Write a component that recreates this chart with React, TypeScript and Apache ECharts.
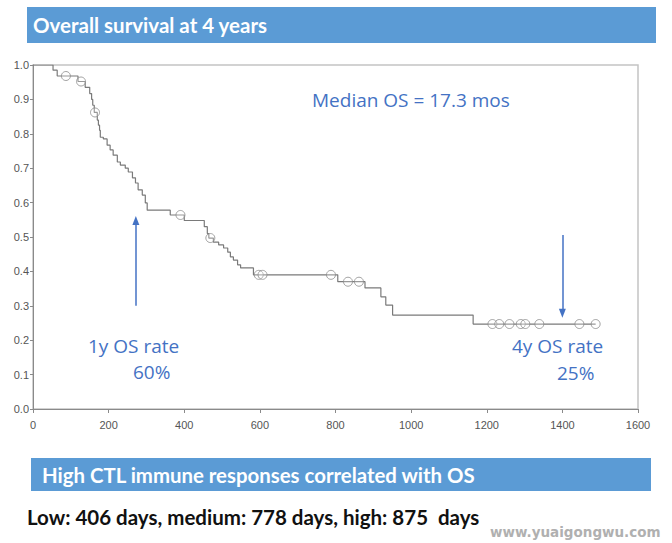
import React, { useEffect, useRef } from "react";
import * as echarts from "echarts";

// Kaplan–Meier step points: time (days) and survival after the step
const stepTimes = [0, 53, 64, 119, 138, 150, 155, 158, 162, 170, 173, 176, 178, 186, 196, 204, 212, 223, 231, 244, 252, 263, 271, 278, 289, 297, 302, 363, 400, 453, 461, 465, 477, 491, 504, 515, 522, 530, 541, 549, 583, 806, 878, 920, 933, 951, 1164, 1488];
const stepSurv = [1.0, 0.985, 0.968, 0.952, 0.935, 0.917, 0.9, 0.883, 0.862, 0.84, 0.825, 0.81, 0.79, 0.785, 0.767, 0.753, 0.738, 0.718, 0.709, 0.7, 0.689, 0.672, 0.657, 0.637, 0.622, 0.599, 0.578, 0.564, 0.548, 0.53, 0.51, 0.497, 0.485, 0.477, 0.468, 0.456, 0.442, 0.433, 0.419, 0.41, 0.39, 0.37, 0.352, 0.326, 0.302, 0.273, 0.247, 0.247];

// Censored observations
const censorTimes = [87, 127, 164, 390, 469, 597, 607, 788, 833, 862, 1215, 1233, 1260, 1290, 1302, 1339, 1445, 1488];
const censorSurv = [0.968, 0.952, 0.862, 0.564, 0.497, 0.39, 0.39, 0.39, 0.37, 0.37, 0.247, 0.247, 0.247, 0.247, 0.247, 0.247, 0.247, 0.247];

// Arrows (data coords): [x, yFrom, yTo]
const arrow1y = [272, 0.3, 0.548];
const arrow4y = [1400, 0.506, 0.278];

const xTicks = [0, 1600, 200];
const yTicks = [0, 1, 0.1];

const titleText = "Overall survival at 4 years";
const subTitleText = "High CTL immune responses correlated with OS";
const bottomText = "Low: 406 days, medium: 778 days, high: 875  days";
const medianText = "Median OS = 17.3 mos";
const label1y = ["1y OS rate", "60%"];
const label4y = ["4y OS rate", "25%"];
const watermark = "www.yuaigongwu.com";

export default function App() {
  const ref = useRef<HTMLDivElement>(null);
  useEffect(() => {
    if (!ref.current) return;
    const chart = echarts.init(ref.current, null, { renderer: "svg" });
    const blue = "#4472C4";
    const barBlue = "#5B9BD5";
    const curve = stepTimes.map((t, i) => [t, stepSurv[i]]);
    const censor = censorTimes.map((t, i) => [t, censorSurv[i]]);
    const annFont = "19px 'Open Sans'";
    const option: any = {
      animation: false,
      backgroundColor: "#ffffff",
      grid: {
        left: 33,
        right: 34,
        top: 65,
        height: 344,
        show: true,
        borderColor: "#c4c4c4",
        borderWidth: 1.5,
      },
      xAxis: {
        type: "value",
        min: xTicks[0],
        max: xTicks[1],
        interval: xTicks[2],
        axisLine: { show: true, lineStyle: { color: "#8a8a8a", width: 1 } },
        axisTick: { show: true, length: 4, lineStyle: { color: "#8a8a8a" } },
        splitLine: { show: false },
        axisLabel: {
          color: "#555",
          fontSize: 11,
          fontFamily: "Liberation Sans",
          margin: 10,
          formatter: (v: number) => String(v),
        },
      },
      yAxis: {
        type: "value",
        min: yTicks[0],
        max: yTicks[1],
        interval: yTicks[2],
        axisLine: { show: true, lineStyle: { color: "#8a8a8a", width: 1 } },
        axisTick: { show: true, length: 3, lineStyle: { color: "#8a8a8a" } },
        splitLine: { show: false },
        axisLabel: {
          color: "#555",
          fontSize: 11,
          fontFamily: "Liberation Sans",
          margin: 4,
          formatter: (v: number) => v.toFixed(1),
        },
      },
      series: [
        {
          type: "line",
          step: "end",
          data: curve,
          symbol: "none",
          lineStyle: { color: "#7a7a7a", width: 1.2 },
          markLine: {
            silent: true,
            symbol: ["none", "triangle"],
            symbolSize: [7, 9],
            lineStyle: { color: blue, width: 1.5, type: "solid" },
            label: { show: false },
            data: [
              [
                { coord: [arrow1y[0], arrow1y[1]] },
                { coord: [arrow1y[0], arrow1y[2]] },
              ],
              [
                { coord: [arrow4y[0], arrow4y[1]] },
                { coord: [arrow4y[0], arrow4y[2]] },
              ],
            ],
          },
        },
        {
          type: "scatter",
          data: censor,
          symbol: "circle",
          symbolSize: 9,
          itemStyle: { color: "rgba(255,255,255,0.3)", borderColor: "#8c8c8c", borderWidth: 1 },
          z: 3,
        },
      ],
      graphic: [
        { type: "rect", shape: { x: 27, y: 7, width: 629, height: 36 }, style: { fill: barBlue } },
        {
          type: "text",
          x: 33,
          y: 25,
          style: { text: titleText, fill: "#fff", font: "bold 20.5px Lato", verticalAlign: "middle" },
        },
        {
          type: "text",
          x: 312,
          y: 100,
          style: { text: medianText, fill: blue, font: annFont, verticalAlign: "middle" },
        },
        {
          type: "text",
          x: 88,
          y: 346,
          style: { text: label1y[0], fill: blue, font: annFont, verticalAlign: "middle" },
        },
        {
          type: "text",
          x: 133,
          y: 372,
          style: { text: label1y[1], fill: blue, font: annFont, verticalAlign: "middle" },
        },
        {
          type: "text",
          x: 512,
          y: 346,
          style: { text: label4y[0], fill: blue, font: annFont, verticalAlign: "middle" },
        },
        {
          type: "text",
          x: 557,
          y: 373,
          style: { text: label4y[1], fill: blue, font: annFont, verticalAlign: "middle" },
        },
        { type: "rect", shape: { x: 31, y: 458, width: 620, height: 33 }, style: { fill: barBlue } },
        {
          type: "text",
          x: 42,
          y: 475,
          style: { text: subTitleText, fill: "#fff", font: "bold 20.4px Lato", verticalAlign: "middle" },
        },
        {
          type: "text",
          x: 27,
          y: 517,
          style: { text: bottomText, fill: "#111", font: "bold 20.5px Lato", verticalAlign: "middle" },
        },
        {
          type: "text",
          x: 490,
          y: 532,
          style: { text: watermark, fill: "#b0b0b0", font: "bold 13.5px 'DejaVu Sans'", verticalAlign: "middle" },
        },
      ],
    };
    chart.setOption(option);
    return () => chart.dispose();
  }, []);
  return (
    <div
      ref={ref}
      style={{ position: "absolute", left: 0, top: 0, width: 672, height: 543, background: "#fff" }}
    />
  );
}
